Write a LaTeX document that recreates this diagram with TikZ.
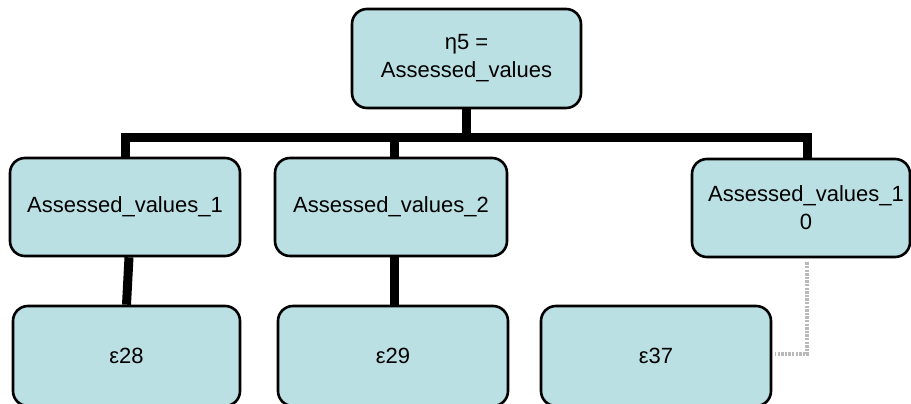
\documentclass[tikz,border=0pt]{standalone}
\usepackage{fontspec}
\setmainfont{Liberation Sans}
\definecolor{boxfill}{RGB}{187,224,227}
\definecolor{dotgray}{RGB}{185,185,185}
\begin{document}
\begin{tikzpicture}[x=1pt,y=-1pt,
  orgbox/.style={draw=black, line width=2.6pt, fill=boxfill, rounded corners=15pt,
    inner sep=0pt, align=center, font=\fontsize{22}{28}\selectfont},
  tree/.style={draw=black, line width=9pt, line join=miter},
  dotlink/.style={draw=dotgray, line width=3.2pt, dash pattern=on 2.4pt off 1.2pt}]
  \clip (0,0) rectangle (911,404);
  \fill[white] (0,0) rectangle (911,404);

  % level 0
  \node[orgbox, minimum width=229pt, minimum height=99pt] (T) at (466.5,58.5)
    {η5 =\\Assessed\_values};
  % level 1
  \node[orgbox, minimum width=230pt, minimum height=98pt] (A1) at (125,207) {Assessed\_values\_1};
  \node[orgbox, minimum width=232pt, minimum height=98pt] (A2) at (391,207) {Assessed\_values\_2};
  \node[orgbox, minimum width=218pt, minimum height=98pt] (A10) at (801,208)
    {\hspace*{10pt}Assessed\_values\_1\\\hspace*{10pt}0};
  % level 2
  \node[orgbox, minimum width=227pt, minimum height=100pt] (E28) at (126.5,356) {ε28};
  \node[orgbox, minimum width=230pt, minimum height=100pt] (E29) at (393,356) {ε29};
  \node[orgbox, minimum width=230pt, minimum height=100pt] (E37) at (656,356) {ε37};

  % bus between the root and its children
  \coordinate (busL) at (125,137.5);
  \coordinate (busR) at (807,137.5);
  \draw[tree] (T.south) -- (T.south |- busL);
  \draw[tree] (A1.north) -- (A1.north |- busL) -- (busR) -- ([xshift=6pt]A10.north);
  \draw[tree] ([xshift=3pt]A2.north) -- ([xshift=3pt]A2.north |- busL);

  % links to the error terms
  \draw[tree] ([xshift=4pt]A1.south) -- (E28.north);
  \draw[tree] ([xshift=3pt]A2.south) -- ([xshift=1pt]E29.north);
  \draw[dotlink] ([xshift=6pt,yshift=-4pt]A10.south) |- ([xshift=3pt,yshift=2pt]E37.east);
\end{tikzpicture}
\end{document}
